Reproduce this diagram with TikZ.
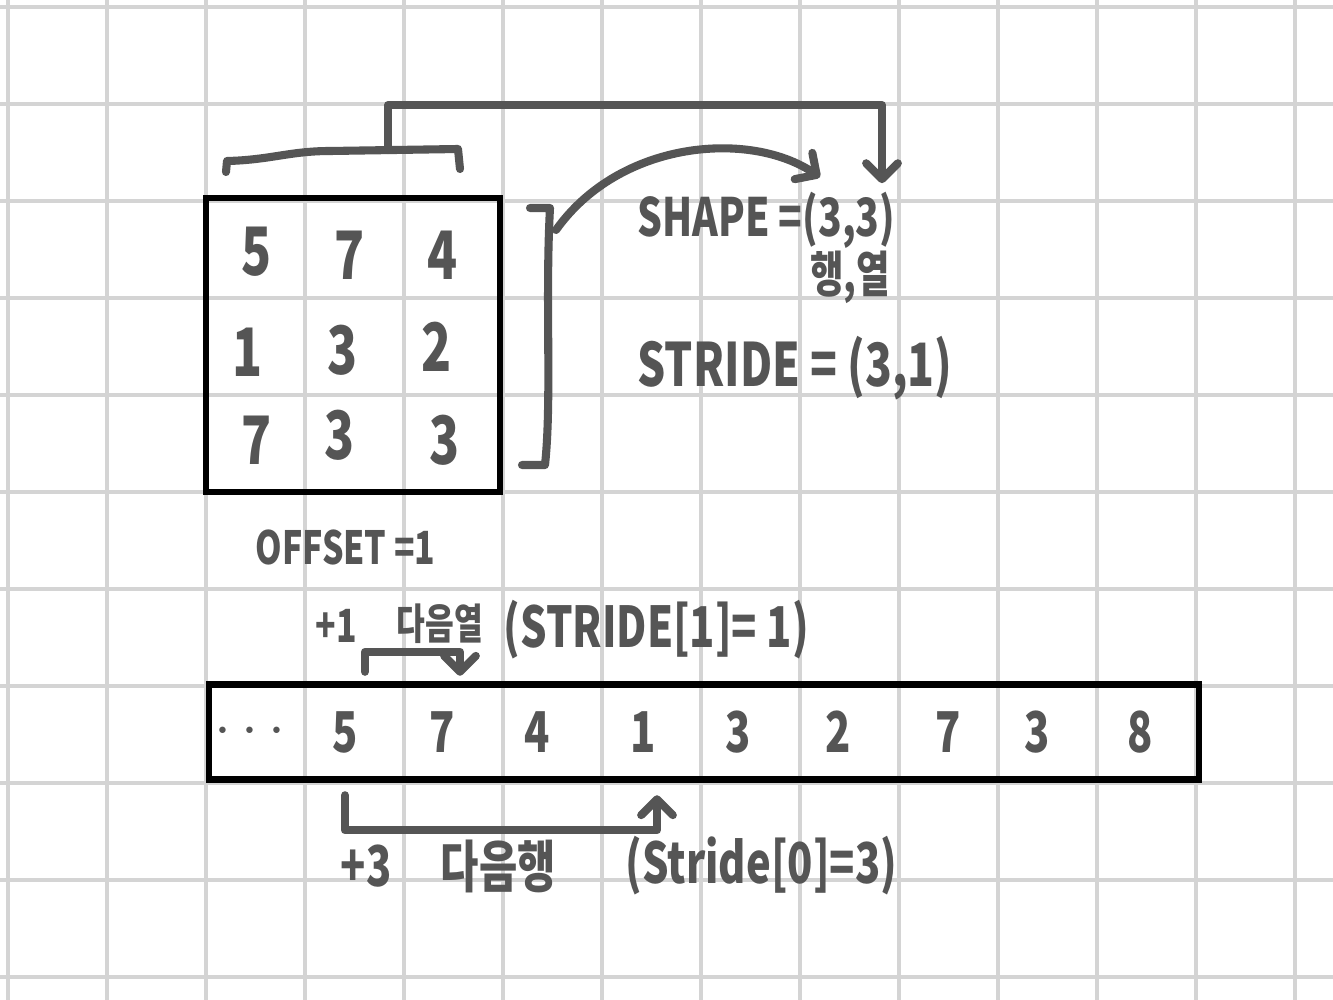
\documentclass[tikz,border=0pt]{standalone}
\usepackage{fontspec}
\newfontfamily\handfont{Noto Sans CJK KR}[FakeStretch=0.74]
\usetikzlibrary{positioning, arrows.meta, calc}
\definecolor{gridgray}{HTML}{D4D4D4}
\definecolor{ink}{HTML}{555555}

\begin{document}
\begin{tikzpicture}[x=0.01cm, y=-0.01cm,
    box/.style={draw=black, line width=1.8pt},
    num/.style={text=ink, inner sep=0pt, font=\handfont\bfseries\fontsize{19}{20}\selectfont},
    cell/.style={text=ink, inner sep=0pt, minimum height=0.95cm, font=\handfont\bfseries\fontsize{16}{18}\selectfont},
    note/.style={text=ink, inner sep=0pt, anchor=west, font=\handfont\bfseries\fontsize{16}{19}\selectfont},
    small note/.style={note, font=\handfont\bfseries\fontsize{13}{15}\selectfont},
    ink line/.style={draw=ink, line width=2.3pt, line cap=round, line join=round},
    conn/.style={ink line, -{Straight Barb[length=4.5pt,width=9pt,round]}}]
  \useasboundingbox (0,0) rectangle (1333,1000);
  \fill[white] (0,0) rectangle (1333,1000);
  % grid paper
  \foreach \gx in {8,107,...,1295} \draw[gridgray, line width=0.9pt] (\gx,0) -- (\gx,1000);
  \foreach \gy in {7,104,...,980} \draw[gridgray, line width=0.9pt] (0,\gy) -- (1333,\gy);

  % 3x3 matrix
  \node[box, minimum width=2.94cm, minimum height=2.94cm] (mat) at (353,345) {};
  \foreach \v/\x/\y [count=\i] in {5/257/252, 7/350/255, 4/443/255, 1/248/352, 3/343/350, 2/437/347, 7/257/440, 3/340/435, 3/445/440}
    \node[num] (m\i) at (\x,\y) {\v};

  % shape / stride / offset
  \node[note, font=\handfont\bfseries\fontsize{15}{18}\selectfont] (shape) at (637,220) {SHAPE =(3,3)};
  \node[note, anchor=north, font=\handfont\bfseries\fontsize{14}{17}\selectfont] (rowcol) at (850,250) {행,열};
  \node[note, font=\handfont\bfseries\fontsize{17}{20}\selectfont] (stride) at (637,368) {STRIDE = (3,1)};
  \node[small note] (offset) at (255,547) {OFFSET =1};

  % brace over the columns
  \draw[ink line] (226,172) -- (227,161) .. controls (270,160) and (290,151) .. (330,151) -- (458,149) -- (460,169);
  \coordinate (colbrace) at (388,150);
  \draw[conn] (colbrace) -- (388,105) -| ($(shape.north west)+(245,-8)$);

  % bracket over the rows
  \draw[ink line] (530,208) -- (550,208) .. controls (545,300) and (552,400) .. (545,465) -- (522,465);
  \coordinate (rowbrace) at (556,230);
  \draw[conn] (rowbrace) .. controls (620,140) and (750,130) .. ($(shape.north west)+(183,-14)$);

  % flat storage
  \node[box, minimum width=9.9cm, minimum height=0.95cm] (arr) at (704,732) {};
  \foreach \v/\x [count=\i from 0] in {{$\cdots$}/250, 5/345, 7/442, 4/537, 1/643, 3/738, 2/838, 7/948, 3/1037, 8/1140}
    \node[cell] (c\i) at (\x,732) {\v};

  % next column
  \draw[conn] ($(c1.north)+(20,-12)$) -- ++(0,-20) -| ($(c2.north)+(18,-8)$);
  \node[small note] (plusone) at (315,626) {+1};
  \node[small note, font=\handfont\bfseries\fontsize{12}{14}\selectfont] (nextcol) at (396,624) {다음열};
  \node[note] (strideone) at (503,630) {(STRIDE[1]= 1)};

  % next row
  \draw[conn] ($(c1.south)+(0,15)$) -- ++(0,35) -| ($(c4.south)+(14,15)$);
  \node[note] (plusthree) at (340,866) {+3};
  \node[note] (nextrow) at (440,866) {다음행};
  \node[note] (stridezero) at (625,866) {(Stride[0]=3)};
\end{tikzpicture}
\end{document}
